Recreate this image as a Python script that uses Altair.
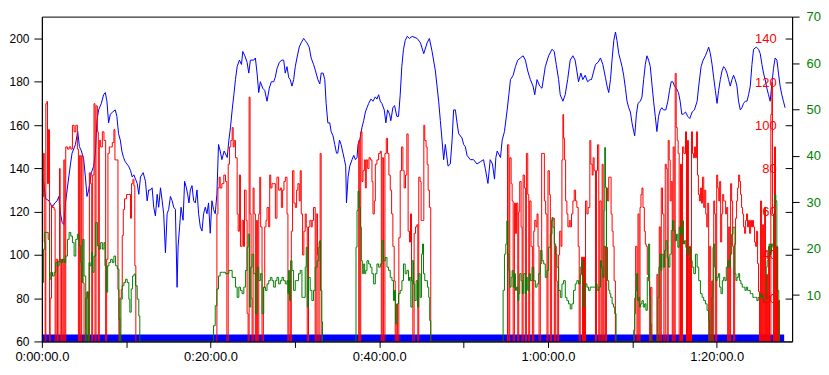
import altair as alt
import pandas as pd

# ---- data (time in minutes) ----
blue_t = [0.04,0.24,0.44,0.83,1.22,1.54,1.81,2.01,2.21,2.40,2.60,2.80,2.99,3.19,3.39,3.58,3.98,4.25,4.45,4.69,4.96,5.16,5.35,5.55,5.87,6.14,6.34,6.53,6.73,7.05,7.32,7.52,7.71,7.91,8.11,8.39,8.70,8.89,9.09,9.30,9.48,9.68,9.89,10.28,
 10.51,10.71,10.90,11.10,11.30,11.49,11.69,12.01,12.28,12.48,12.67,12.87,13.07,13.26,13.46,13.67,13.85,14.06,14.26,14.44,14.65,14.85,15.03,15.24,15.44,15.63,15.83,16.03,16.15,16.33,16.50,16.74,16.92,17.13,17.28,17.44,17.60,17.80,17.99,18.19,18.39,18.58,18.78,18.98,19.17,19.37,19.57,19.76,19.96,20.16,20.35,20.55,20.75,20.94,21.14,21.34,21.61,
 21.97,22.17,22.36,22.56,22.76,22.95,23.15,23.42,23.66,23.82,24.06,24.33,24.53,24.72,25.12,25.31,25.51,25.71,25.90,26.18,26.42,26.69,26.96,27.20,27.48,27.67,27.87,28.15,28.46,28.67,28.85,29.06,29.26,29.44,29.65,29.85,30.04,30.24,30.51,30.74,31.03,31.22,31.42,31.69,31.92,32.21,
 32.44,32.72,32.95,33.11,33.34,33.54,33.70,33.90,34.13,34.29,34.52,34.72,34.93,35.08,35.28,35.47,35.70,35.87,36.02,36.11,36.30,36.50,36.77,36.97,37.17,37.36,37.48,37.68,37.95,38.15,38.35,38.54,38.74,39.01,39.25,39.53,39.72,39.92,40.12,40.31,40.59,40.78,40.98,41.22,41.37,41.61,41.81,42.08,42.28,42.48,42.67,42.87,43.07,
 43.31,43.58,43.90,44.49,44.88,45.27,45.67,45.94,46.26,46.65,47.04,47.24,47.44,47.63,47.83,48.15,48.42,48.63,48.81,49.02,49.22,49.41,49.81,50.00,50.20,50.40,50.79,51.18,51.58,51.97,52.36,52.56,52.88,53.15,53.42,53.66,53.82,
 53.98,54.37,54.57,54.84,55.16,55.36,55.55,55.87,56.14,56.42,56.73,57.05,57.32,57.60,57.91,58.23,58.43,58.70,59.02,59.29,59.68,60.08,60.47,60.74,60.98,61.26,61.45,61.77,62.04,62.33,62.63,62.95,63.22,63.42,63.62,63.90,64.13,64.41,64.69,64.99,
 65.16,65.43,65.63,65.94,66.22,66.50,66.81,67.00,67.20,67.41,67.59,67.80,68.00,68.18,68.39,68.59,68.78,68.97,69.18,69.37,69.57,69.77,69.96,70.16,70.28,70.48,70.67,70.95,71.14,71.34,71.54,71.73,71.93,72.13,72.32,72.52,72.72,72.91,73.11,73.31,73.50,73.70,73.97,74.21,74.41,74.61,74.80,75.00,75.20,75.47,75.67,75.86,
 76.03,76.30,76.57,76.81,77.09,77.36,77.68,77.87,78.15,78.39,78.66,78.86,79.05,79.25,79.45,79.64,79.84,80.04,80.23,80.43,80.63,80.82,81.02,81.22,81.41,81.61,81.81,82.00,82.20,82.40,82.59,82.80,82.99,83.18,83.39,83.59,83.78,83.98,84.18,84.37,84.69,84.96,85.16,85.36,85.55,85.75,85.95,86.14,86.34,86.54,86.73,86.93,87.14,87.32,87.52,87.72,87.91,88.11]
blue_v = [135,133,126,125,122,124,125,127,119,115,114,124,130,136,142,147,151,157,150,148,144,136,127,130,138,141,147,162,167,170,174,175,171,161,165,166,167,164,156,153,148,145,143,141,
 139,136,137,135,133,128,136,138,134,125,130,130,131,122,118,128,122,131,125,119,101,119,121,127,125,122,121,85,104,113,122,116,134,131,128,124,130,132,125,124,130,119,113,111,119,122,119,124,110,125,121,119,128,151,148,144,148,
 145,153,159,167,174,181,187,190,188,194,192,189,184,190,190,191,184,175,180,177,176,171,177,180,180,182,186,189,190,190,184,187,182,181,178,181,187,191,196,198,200,199,198,196,191,188,
 185,181,179,184,184,181,170,161,161,157,155,151,147,147,153,151,147,144,141,124,136,141,144,146,144,145,151,153,159,162,166,168,170,172,171,173,172,174,171,170,167,161,167,165,162,168,169,164,164,174,187,195,199,
 201,200,201,200,198,193,198,200,194,185,171,162,153,144,151,141,142,153,167,167,161,156,154,151,150,146,144,144,142,143,144,140,133,144,142,135,145,
 148,145,153,157,167,174,181,183,187,190,191,192,190,185,181,178,174,181,178,177,187,192,195,194,188,181,174,171,174,181,190,192,190,185,180,184,181,183,180,181,
 181,185,188,189,191,188,182,178,175,181,190,199,203,199,193,190,187,183,177,171,168,166,161,157,155,165,170,171,173,181,188,192,190,187,179,171,164,157,164,167,168,167,167,171,176,180,180,178,177,175,171,165,
 165,166,164,163,166,167,171,178,187,190,192,194,196,193,188,182,176,170,176,181,185,187,186,184,181,178,181,183,181,178,171,167,168,170,171,171,174,178,188,195,196,195,193,188,184,181,177,174,171,179,186,191,190,184,178,174,171,168]

red_t = [0.08,0.20,0.28,0.39,0.47,0.59,0.67,0.79,0.91,0.98,1.14,1.26,1.46,1.57,1.69,1.85,1.93,2.09,2.17,2.32,2.48,2.60,2.72,2.83,3.03,3.23,3.43,3.62,3.82,4.02,4.21,4.33,4.45,4.61,4.72,4.88,5.00,5.20,5.39,5.51,5.63,5.79,5.91,6.02,6.18,6.30,6.42,6.58,6.69,6.81,6.97,7.17,7.36,7.56,7.68,7.83,7.99,8.15,8.35,8.54,8.66,8.86,9.02,9.13,9.25,9.41,9.53,9.65,9.80,10.04,10.31,10.51,10.63,10.79,10.91,11.02,11.14,
 20.75,20.87,21.02,21.14,21.34,21.57,21.77,21.93,22.09,22.24,22.40,22.56,22.68,22.80,22.95,23.15,23.27,23.42,23.54,23.74,23.90,24.02,24.21,24.33,24.45,24.57,24.68,24.80,24.92,25.04,25.16,25.31,25.43,25.55,25.71,25.83,25.94,26.10,26.26,26.42,26.57,26.69,26.89,27.01,27.13,27.28,27.48,27.68,27.87,28.07,28.27,28.39,28.54,28.70,28.86,29.06,29.17,29.29,29.45,29.57,29.72,29.88,30.04,30.20,30.35,30.51,30.63,30.75,30.91,31.06,31.22,31.34,31.46,31.61,31.77,31.93,32.05,32.20,32.40,32.52,32.68,
 32.72,32.87,32.99,33.11,37.56,37.68,37.80,37.95,38.07,38.23,38.35,38.46,38.62,38.78,38.94,39.13,39.25,39.41,39.53,39.72,39.92,40.12,40.24,40.35,40.51,40.67,40.83,40.98,41.14,41.30,41.46,41.61,41.77,41.89,42.01,42.17,42.32,42.48,42.64,42.80,42.95,
 43.11,43.27,43.42,43.58,43.70,43.82,43.98,44.13,44.29,44.45,44.57,44.68,44.84,44.96,45.16,45.28,45.39,45.55,45.67,45.79,45.94,46.10,
 55.20,55.36,55.47,55.63,55.75,55.87,56.02,56.14,56.26,56.42,56.53,56.65,56.81,56.93,57.05,57.20,57.32,57.44,57.60,57.72,57.83,57.99,58.15,58.31,58.43,58.58,58.70,58.82,58.94,59.09,59.25,59.41,59.57,59.72,59.88,60.00,60.16,60.28,60.43,60.59,60.75,60.87,60.98,61.10,61.26,61.38,61.54,61.65,61.77,61.85,61.97,62.09,62.24,62.36,62.52,62.64,62.79,62.95,63.11,63.27,63.42,63.58,63.70,63.82,63.98,64.09,64.21,64.33,64.45,64.61,64.76,
 64.96,65.08,65.24,65.35,65.47,65.63,65.75,65.87,66.02,66.14,66.30,66.42,66.54,66.65,66.81,66.93,67.05,67.20,67.36,67.48,67.60,67.72,67.84,67.99,70.28,70.39,70.55,70.67,70.79,70.91,71.02,71.14,71.26,71.42,71.54,71.65,71.77,71.93,72.05,72.16,72.32,72.91,73.03,73.19,73.31,73.43,73.58,73.74,73.90,74.02,74.13,74.25,74.37,74.49,74.61,74.73,74.84,74.96,75.08,75.20,75.32,75.43,75.55,75.71,75.83,75.95,76.10,
 76.30,76.42,76.54,76.65,76.77,76.89,77.01,77.13,77.24,77.36,77.48,77.60,77.72,77.83,77.95,78.07,78.19,78.31,78.46,78.58,78.70,78.82,78.94,79.05,79.17,79.29,79.41,79.53,79.65,79.76,79.88,80.00,80.12,80.24,80.35,80.47,80.59,80.71,80.83,80.94,81.06,81.18,81.30,81.42,81.54,81.65,81.77,81.89,82.01,82.13,82.24,82.36,82.48,82.60,82.72,82.83,82.95,83.07,83.19,83.31,83.43,83.54,83.66,83.78,83.90,84.02,84.13,84.25,84.37,84.49,84.61,84.73,84.85,84.96,85.08,85.20,85.32,85.44,85.56,85.68,85.79,85.91,86.03,86.15,86.26,86.42,86.54,86.61,86.73,86.85,86.97,87.09,87.21,87.32,87.44]
red_v = [67,87,46,0,110,111,73,98,0,20,63,62,61,0,38,0,37,80,0,38,0,84,0,90,89,90,89,100,97,100,89,0,86,0,86,27,0,20,23,0,78,73,0,77,110,0,109,97,0,93,90,97,93,0,38,87,90,90,92,98,84,84,24,0,20,24,49,61,66,68,68,57,73,75,72,35,0,
 59,71,76,71,73,77,74,0,82,90,93,99,90,93,85,59,51,77,44,56,44,70,56,13,0,113,59,20,0,71,59,0,56,0,59,76,53,0,25,53,56,62,53,77,71,73,73,57,76,70,71,62,70,74,76,59,0,28,0,51,79,64,62,70,73,65,79,59,40,51,59,53,0,53,56,53,56,62,0,59,40,
 0,46,87,0,93,0,97,74,79,84,71,84,80,85,84,74,59,65,82,84,87,88,0,85,0,87,94,87,77,70,59,44,28,0,17,0,48,79,90,79,71,
 77,96,51,46,59,28,0,50,53,54,0,76,74,56,56,100,93,90,82,70,62,0,
 91,0,85,73,65,0,64,50,64,0,60,74,53,0,77,71,0,87,68,0,65,44,0,51,56,53,59,44,0,36,87,87,65,59,0,79,68,0,56,57,0,44,28,0,40,51,44,84,105,94,84,65,59,53,56,53,59,65,70,65,62,44,0,31,39,0,39,0,65,59,62,
 93,82,77,85,79,0,79,91,0,65,0,82,0,44,0,71,65,76,76,59,51,44,28,0,20,44,0,59,0,62,68,71,62,51,45,44,31,28,0,25,0,31,0,53,0,71,59,0,82,80,0,93,84,65,74,0,90,0,124,99,93,87,0,82,0,90,87,
 97,0,93,0,44,0,97,87,85,90,85,97,77,68,65,71,64,76,62,70,59,53,64,0,44,0,28,0,65,59,0,77,71,65,74,46,59,68,65,65,59,62,0,53,0,73,65,44,0,45,57,65,71,77,74,68,62,59,53,50,56,59,53,56,50,56,53,56,53,46,44,51,36,23,0,65,0,54,0,62,0,31,0,44,0,105,120,59,0,90,0,44,0,19,0]

green_t = [0.08,0.20,0.35,0.59,0.75,0.91,1.06,1.26,1.46,1.65,1.85,2.05,2.24,2.44,2.64,2.83,3.03,3.23,3.43,3.62,3.82,4.02,4.21,4.41,4.61,4.72,4.84,5.00,5.20,5.32,5.47,5.59,5.71,5.87,6.02,6.18,6.38,6.58,6.77,6.97,7.17,7.36,7.48,7.68,7.80,7.95,8.15,8.35,8.54,8.74,8.94,9.13,9.25,9.37,9.53,9.72,9.92,10.12,10.31,10.43,10.59,10.75,10.91,11.10,11.30,11.49,11.61,
 20.35,20.55,20.75,20.94,21.14,21.38,21.77,22.17,22.56,22.95,23.15,23.35,23.54,23.74,23.94,24.13,24.33,24.45,24.61,24.76,24.92,25.12,25.31,25.51,25.71,25.90,26.10,26.30,26.50,26.69,26.89,27.09,27.28,27.48,27.68,27.87,28.07,28.27,28.46,28.66,28.86,29.06,29.17,29.25,29.37,29.49,29.65,29.84,30.04,30.24,30.43,30.63,30.83,31.02,31.22,31.34,31.46,31.61,31.81,32.01,32.20,32.40,
 32.64,32.83,32.95,33.03,33.19,33.27,37.24,37.36,37.48,37.60,37.76,37.87,37.99,38.15,38.27,38.39,38.54,38.74,38.94,39.13,39.33,39.53,39.72,39.92,40.12,40.31,40.51,40.71,40.91,41.10,41.30,41.50,41.69,41.81,41.93,42.09,42.28,42.48,42.68,42.87,43.07,43.27,43.46,
 43.58,43.74,43.90,44.05,44.21,44.37,44.53,44.68,44.84,45.00,45.12,45.24,45.39,45.55,45.71,45.86,45.98,46.10,
 54.68,54.84,55.00,55.12,55.24,55.36,55.47,55.63,55.75,55.87,56.02,56.14,56.26,56.42,56.54,56.65,56.81,56.97,57.13,57.32,57.44,57.60,57.76,57.91,58.11,58.31,58.50,58.70,58.90,59.09,59.29,59.49,59.68,59.88,60.08,60.27,60.47,60.59,60.75,60.90,61.06,61.26,61.46,61.65,61.85,62.05,62.24,62.44,62.64,62.83,63.03,63.23,63.42,63.62,63.82,64.02,64.13,64.29,64.45,64.61,64.80,65.00,
 65.24,65.43,65.63,65.83,66.02,66.22,66.34,66.50,66.65,66.73,66.81,66.93,67.05,67.20,67.32,67.44,67.60,67.76,67.91,68.07,70.16,70.28,70.39,70.51,70.63,70.75,70.87,70.98,71.14,71.30,71.46,71.61,71.77,71.93,72.05,72.16,72.24,73.03,73.15,73.27,73.39,73.50,73.66,73.82,73.98,74.13,74.29,74.45,74.61,74.76,74.92,75.08,75.24,75.39,75.55,75.71,75.87,76.06,
 76.18,76.34,76.50,76.69,76.89,77.09,77.28,77.48,77.68,77.87,78.07,78.27,78.46,78.66,78.86,79.05,79.17,79.45,79.57,79.65,79.76,79.88,80.04,80.20,80.35,80.51,80.67,80.83,80.98,81.14,81.30,81.46,81.61,81.77,81.93,82.05,82.17,82.28,82.40,82.56,82.72,82.87,83.03,83.19,83.35,83.50,83.66,83.82,83.98,84.13,84.29,84.45,84.61,84.76,84.92,85.08,85.24,85.39,85.55,85.71,85.87,85.98,86.10,86.22,86.34,86.50,86.65,86.77,86.89,87.01,87.13,87.24,87.36,87.44]
green_v = [12.7,19.9,23.5,23.5,22.0,13.4,14.9,14.1,14.9,17.0,16.3,17.7,17.0,17.7,17.0,18.4,22.0,23.5,22.7,21.3,18.4,22.0,23.1,20.6,17.0,12.7,22.0,14.1,0,10.6,0,17.0,16.3,19.2,14.9,18.4,25.6,20.6,19.9,21.3,19.9,21.3,16.3,10.6,16.3,17.0,17.7,17.0,18.4,16.3,15.6,4.8,0,9.1,12.0,12.7,13.4,12.7,9.1,6.3,11.3,14.1,14.5,12.0,9.1,5.5,0,
 3.4,7.7,11.3,14.1,14.9,14.9,14.6,15.3,13.8,11.7,9.5,11.7,11.0,10.3,11.7,15.3,20.3,23.1,7.4,16.0,18.8,14.6,6.0,16.0,13.1,14.6,6.0,11.7,11.0,12.4,13.1,13.8,13.1,11.7,13.1,13.8,12.4,13.1,13.8,13.1,12.4,13.1,10.3,15.3,8.8,17.4,15.3,11.0,13.1,13.1,14.6,15.3,9.5,9.5,16.0,20.3,7.4,13.8,11.0,8.8,11.0,16.0,
 17.4,20.3,21.7,11.0,4.2,0,20.3,28.2,32.4,28.9,24.6,17.4,14.6,16.7,14.6,15.3,17.4,16.7,16.0,14.6,12.4,14.6,16.7,16.0,16.7,21.7,17.4,18.1,16.0,15.3,13.8,13.1,8.8,11.0,3.8,8.1,10.3,11.0,13.1,16.7,14.6,15.3,13.1,
 13.8,7.4,17.4,12.4,8.8,13.1,7.4,14.6,9.5,18.8,21.0,14.6,13.1,13.1,11.7,9.5,4.5,0,
 11.0,18.8,21.0,26.0,18.8,15.3,11.7,13.8,15.3,11.7,14.6,11.0,11.7,8.8,10.3,14.6,13.1,10.3,14.6,10.3,13.8,11.0,14.6,13.1,16.0,13.1,11.7,12.4,14.6,19.6,17.4,16.7,13.8,15.3,20.3,23.1,26.7,24.6,21.0,18.8,16.0,11.0,9.5,12.4,13.1,9.5,8.8,8.1,7.0,8.1,11.0,12.4,13.1,12.4,16.0,17.4,7.4,11.0,12.4,11.7,11.0,11.7,
 11.7,11.7,12.4,11.0,11.7,17.4,16.0,13.8,28.2,41.8,33.2,20.3,13.1,11.0,10.3,9.5,8.1,7.4,6.0,0,2.4,6.0,11.0,14.6,8.8,9.5,7.4,8.1,8.8,7.4,8.1,6.7,13.8,21.0,9.5,3.8,0,9.5,16.0,18.8,15.3,18.8,16.0,19.6,21.7,18.1,16.0,18.8,23.9,26.0,23.9,21.7,23.1,20.3,24.6,23.1,26.0,21.0,
 21.7,20.3,18.8,20.3,17.4,16.0,14.6,18.8,16.0,13.1,10.3,9.5,8.8,8.1,6.7,4.5,0,9.5,20.3,21.0,16.0,13.1,13.8,14.6,11.7,10.3,13.1,13.8,13.1,16.0,17.4,16.0,18.8,23.1,24.6,24.6,14.6,13.1,13.8,14.6,13.1,12.4,11.7,11.7,11.0,11.7,11.0,11.0,10.3,10.3,9.5,9.5,9.5,8.8,9.5,9.5,10.3,9.5,8.8,8.8,16.0,17.4,18.8,21.0,18.8,21.0,20.3,27.4,31.7,30.3,20.3,11.0,1.7,0]

band_start = [0.0]
band_end = [88.0]
band_low = [60]
band_high = [63.2]

x_ticks = [0, 10, 20, 30, 40, 50, 60, 70, 80]
left_ticks = [60, 80, 100, 120, 140, 160, 180, 200]
red_ticks = [20, 40, 60, 80, 100, 120, 140]
green_ticks = [10, 20, 30, 40, 50, 60, 70]

FONT = "Liberation Sans"
W, H = 753, 326

blue_df = pd.DataFrame({"t": blue_t, "v": blue_v})
red_df = pd.DataFrame({"t": red_t, "v": red_v})
green_df = pd.DataFrame({"t": green_t, "v": green_v})
band_df = pd.DataFrame({"t": band_start, "t1": band_end, "lo": band_low, "hi": band_high})

x_scale = alt.Scale(domain=[0, 88.94], nice=False, zero=False)
x_axis = alt.Axis(values=x_ticks, title=None, grid=False, tickSize=6, labelPadding=3,
                  labelFlush=False, labelFont=FONT, labelFontSize=13, labelColor="black",
                  domainColor="black", tickColor="black", zindex=1,
                  labelExpr="datum.value % 20 == 0 ? (floor(datum.value / 60) + ':' + (datum.value % 60 < 10 ? '0' : '') + (datum.value % 60) + ':00.0') : ''")
x_enc = alt.X("t:Q", scale=x_scale, axis=x_axis)

left_scale = alt.Scale(domain=[60, 210.1], nice=False, zero=False)
left_axis = alt.Axis(orient="left", values=left_ticks, title=None, grid=False, tickSize=8,
                     labelPadding=5, labelFont=FONT, labelFontSize=12, labelColor="black",
                     domainColor="black", tickColor="black", zindex=1)

band = alt.Chart(band_df).mark_rect(color="#0000FF").encode(
    x=x_enc,
    x2="t1:Q",
    y=alt.Y("lo:Q", scale=left_scale, axis=left_axis),
    y2="hi:Q",
)

blue = alt.Chart(blue_df).mark_line(color="#0000FF", strokeWidth=1).encode(
    x=x_enc,
    y=alt.Y("v:Q", scale=left_scale, axis=left_axis),
)

red = alt.Chart(red_df).mark_line(color="#FF0000", strokeWidth=1, interpolate="step-after").encode(
    x=x_enc,
    y=alt.Y("v:Q", scale=alt.Scale(domain=[0, 150.3], nice=False, zero=False),
            axis=alt.Axis(orient="left", offset=-W, values=red_ticks, title=None, grid=False,
                          tickSize=7, labelPadding=9, domain=False, labelFont=FONT,
                          labelFontSize=13, labelColor="#FF0000", tickColor="black", zindex=1)),
)

green = alt.Chart(green_df).mark_line(color="#008000", strokeWidth=1, interpolate="step-after").encode(
    x=x_enc,
    y=alt.Y("v:Q", scale=alt.Scale(domain=[0, 70], nice=False, zero=False),
            axis=alt.Axis(orient="right", values=green_ticks, title=None, grid=False,
                          tickSize=7, labelPadding=7, labelFont=FONT, labelFontSize=13,
                          labelColor="#008000", domainColor="black", tickColor="black", zindex=1)),
)

chart = alt.layer(
    alt.layer(band, blue),
    red,
    green,
).resolve_scale(y="independent").properties(
    width=W, height=H,
    background="white",
    padding={"left": 0, "top": 2, "right": 0, "bottom": 0},
).configure_view(stroke="black", strokeWidth=1)

chart.save("out.html", embed_options={"renderer": "svg", "actions": False})
